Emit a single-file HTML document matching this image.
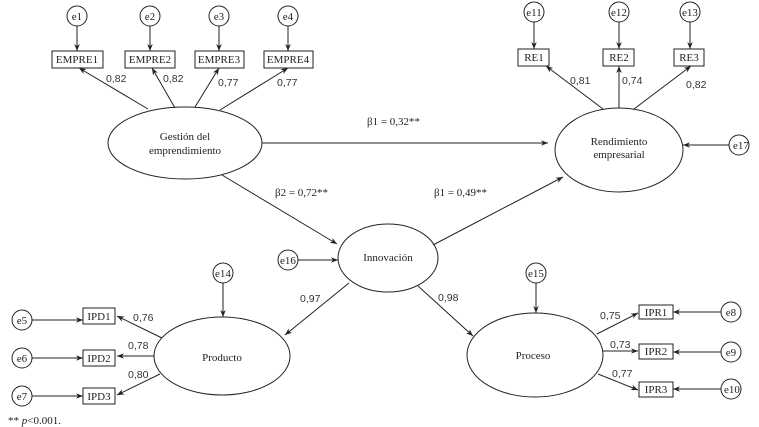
<!DOCTYPE html>
<html><head><meta charset="utf-8"><style>
html,body{margin:0;padding:0;background:#fff}
svg{display:block}
.s{font-family:"Liberation Serif",serif;font-size:11px;fill:#222}
.n{font-family:"Liberation Sans",sans-serif;font-size:10.5px;fill:#333}
</style></head><body>
<svg width="759" height="427" viewBox="0 0 759 427">
<defs><marker id="a" viewBox="0 0 10 10" refX="10" refY="5" markerWidth="7" markerHeight="7" orient="auto" markerUnits="userSpaceOnUse"><path d="M0,1 L10,5 L0,9 L3,5z" fill="#222"/></marker></defs>
<g stroke="#222" fill="none" stroke-width="1">
<!-- ellipses -->
<ellipse cx="185" cy="143" rx="77" ry="36"/>
<ellipse cx="619" cy="150" rx="64" ry="42"/>
<ellipse cx="388" cy="258" rx="50" ry="34"/>
<ellipse cx="222" cy="356" rx="68" ry="39"/>
<ellipse cx="535" cy="355" rx="68" ry="42"/>
<!-- boxes -->
<rect x="52" y="51" width="51" height="17"/><rect x="125" y="51" width="50" height="17"/>
<rect x="195" y="51" width="49" height="17"/><rect x="264" y="51" width="49" height="17"/>
<rect x="518" y="49" width="31" height="17"/><rect x="603" y="49" width="31" height="17"/><rect x="674" y="49" width="30" height="17"/>
<rect x="83" y="308" width="32" height="16"/><rect x="83" y="350" width="32" height="16"/><rect x="83" y="388" width="32" height="16"/>
<rect x="639" y="305" width="34" height="14"/><rect x="639" y="344" width="34" height="15"/><rect x="639" y="382" width="34" height="15"/>
<!-- error circles -->
<circle cx="77" cy="16" r="10"/><circle cx="150" cy="16" r="10"/><circle cx="219" cy="16" r="10"/><circle cx="288" cy="16" r="10"/>
<circle cx="534" cy="12" r="10"/><circle cx="619" cy="12" r="10"/><circle cx="690" cy="12" r="10"/>
<circle cx="739" cy="145" r="10"/><circle cx="288" cy="260" r="10"/><circle cx="223" cy="273" r="10"/><circle cx="536" cy="273" r="10"/>
<circle cx="22" cy="320" r="10"/><circle cx="22" cy="358" r="10"/><circle cx="22" cy="396" r="10"/>
<circle cx="731" cy="312" r="10"/><circle cx="731" cy="352" r="10"/><circle cx="731" cy="389" r="10"/>
</g>
<g stroke="#222" stroke-width="1" marker-end="url(#a)">
<line x1="77" y1="26" x2="77" y2="51"/><line x1="150" y1="26" x2="150" y2="51"/><line x1="219" y1="26" x2="219" y2="51"/><line x1="288" y1="26" x2="288" y2="51"/>
<line x1="534" y1="22" x2="534" y2="49"/><line x1="619" y1="22" x2="619" y2="49"/><line x1="690" y1="22" x2="690" y2="49"/>
<line x1="729" y1="145" x2="683" y2="145"/><line x1="298" y1="260" x2="338" y2="260"/>
<line x1="223" y1="283" x2="223" y2="317"/><line x1="536" y1="283" x2="536" y2="313"/>
<line x1="32" y1="320" x2="83" y2="320"/><line x1="32" y1="358" x2="83" y2="358"/><line x1="32" y1="396" x2="83" y2="396"/>
<line x1="721" y1="312" x2="673" y2="312"/><line x1="721" y1="352" x2="673" y2="352"/><line x1="721" y1="389" x2="673" y2="389"/>
<line x1="148" y1="109" x2="79" y2="68"/><line x1="175" y1="108" x2="152" y2="68"/><line x1="195" y1="107" x2="219" y2="68"/><line x1="220" y1="110" x2="288" y2="68"/>
<line x1="603" y1="109" x2="546" y2="66"/><line x1="619" y1="108" x2="619" y2="66"/><line x1="634" y1="109" x2="691" y2="66"/>
<line x1="262" y1="143" x2="548" y2="143"/><line x1="222" y1="175" x2="337" y2="244"/><line x1="433" y1="245" x2="563" y2="177"/>
<line x1="349" y1="283" x2="285" y2="335"/><line x1="418" y1="286" x2="473" y2="336"/>
<line x1="162" y1="338" x2="117" y2="316"/><line x1="154" y1="356" x2="117" y2="356"/><line x1="160" y1="374" x2="117" y2="395"/>
<line x1="597" y1="334" x2="638" y2="313"/><line x1="602" y1="351" x2="638" y2="351"/><line x1="598" y1="374" x2="638" y2="390"/>
</g>
<g class="s" text-anchor="middle">
<text x="77" y="20">e1</text><text x="150" y="20">e2</text><text x="219" y="20">e3</text><text x="288" y="20">e4</text>
<text x="534" y="16">e11</text><text x="619" y="16">e12</text><text x="690" y="16">e13</text>
<text x="741" y="149">e17</text><text x="288" y="264">e16</text><text x="223" y="277">e14</text><text x="536" y="277">e15</text>
<text x="22" y="324">e5</text><text x="22" y="362">e6</text><text x="22" y="400">e7</text>
<text x="731" y="316">e8</text><text x="731" y="356">e9</text><text x="732" y="393">e10</text>
<text x="77" y="63">EMPRE1</text><text x="150" y="63">EMPRE2</text><text x="219" y="63">EMPRE3</text><text x="288" y="63">EMPRE4</text>
<text x="534" y="61">RE1</text><text x="619" y="61">RE2</text><text x="689" y="61">RE3</text>
<text x="99" y="320">IPD1</text><text x="99" y="362">IPD2</text><text x="99" y="400">IPD3</text>
<text x="656" y="316">IPR1</text><text x="656" y="355">IPR2</text><text x="656" y="393">IPR3</text>
<text x="185" y="140">Gestión del</text><text x="185" y="154">emprendimiento</text>
<text x="619" y="145">Rendimiento</text><text x="619" y="158">empresarial</text>
<text x="388" y="261">Innovación</text><text x="222" y="361">Producto</text><text x="533" y="359">Proceso</text>
</g>
<g class="n">
<text x="106" y="82">0,82</text><text x="163" y="82">0,82</text><text x="218" y="86">0,77</text><text x="277" y="86">0,77</text>
<text x="570" y="84">0,81</text><text x="622" y="84">0,74</text><text x="686" y="88">0,82</text>
<text x="300" y="302">0,97</text><text x="438" y="301">0,98</text>
<text x="133" y="321">0,76</text><text x="128" y="349">0,78</text><text x="128" y="378">0,80</text>
<text x="600" y="319">0,75</text><text x="610" y="348">0,73</text><text x="612" y="377">0,77</text>
</g>
<g class="s" font-size="12">
<text x="367" y="125">β1 = 0,32**</text>
<text x="275" y="196">β2 = 0,72**</text>
<text x="434" y="196">β1 = 0,49**</text>
</g>
<text x="8" y="424" class="s" font-size="10">** <tspan font-style="italic">p</tspan>&lt;0.001.</text>
</svg>
</body></html>
